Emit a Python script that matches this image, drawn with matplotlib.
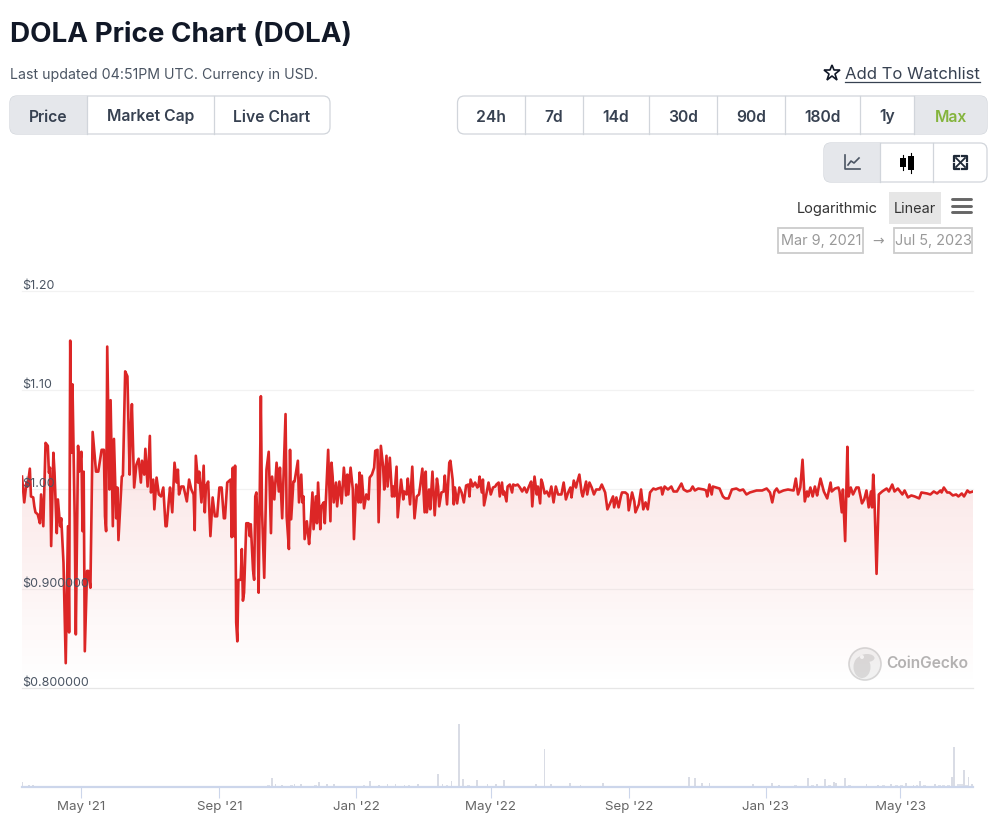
import datetime as dt
import numpy as np
import matplotlib
matplotlib.use("Agg")
import matplotlib.pyplot as plt
import matplotlib.dates as mdates
from matplotlib.patches import FancyBboxPatch, Rectangle, Circle, Ellipse

plt.rcParams['font.family'] = ['Inter', 'DejaVu Sans']

# data, days are counted from the first date
START = dt.datetime(2021, 3, 9)

price_days = [
    0, 2, 4, 5, 7, 8, 10, 11, 12, 14, 16, 17, 19, 21, 23, 24, 25, 26, 28, 29,
    31, 32, 34, 35, 36, 37, 39, 41, 42, 43, 44, 45, 47, 48, 50, 51, 53, 54, 55, 56,
    58, 59, 61, 63, 66, 68, 71, 73, 74, 75, 76, 78, 79, 81, 82, 84, 85, 86, 89, 90,
    92, 94, 96, 97, 98, 100, 102, 104, 106, 107, 109, 110, 112, 114, 115, 117, 118, 120, 122, 124,
    126, 128, 129, 131, 132, 134, 136, 138, 139, 140, 142, 144, 147, 149, 151, 153, 154, 155, 157, 158,
    160, 162, 163, 164, 166, 168, 170, 172, 174, 176, 178, 180, 181, 183, 184, 186, 187, 188, 189, 190,
    191, 192, 193, 195, 196, 197, 198, 200, 202, 203, 204, 206, 207, 208, 209, 210, 211, 213, 214, 216,
    218, 220, 222, 223, 225, 227, 229, 230, 232, 235, 236, 238, 239, 240, 242, 243, 246, 247, 249, 250,
    251, 252, 254, 256, 257, 259, 260, 262, 263, 264, 266, 267, 269, 270, 273, 275, 276, 277, 278, 280,
    281, 283, 285, 287, 289, 290, 291, 293, 295, 296, 298, 300, 301, 302, 303, 305, 307, 309, 310, 312,
    314, 315, 317, 318, 320, 322, 323, 325, 326, 328, 330, 331, 332, 334, 335, 337, 338, 340, 341, 343,
    344, 346, 348, 350, 352, 354, 355, 357, 359, 360, 361, 363, 364, 366, 368, 370, 371, 372, 374, 376,
    377, 379, 381, 382, 384, 385, 386, 388, 390, 392, 394, 396, 398, 399, 400, 402, 404, 406, 407, 408,
    410, 411, 412, 414, 416, 418, 420, 422, 423, 425, 426, 428, 429, 430, 432, 433, 435, 437, 438, 440,
    442, 444, 446, 448, 450, 452, 454, 455, 457, 459, 460, 462, 463, 464, 466, 468, 470, 472, 474, 476,
    478, 481, 483, 485, 487, 489, 490, 492, 494, 495, 497, 499, 500, 503, 504, 506, 508, 510, 512, 515,
    517, 520, 522, 524, 527, 528, 530, 532, 534, 535, 538, 540, 541, 544, 546, 547, 550, 552, 554, 556,
    558, 560, 563, 565, 567, 570, 571, 573, 576, 579, 581, 584, 587, 588, 590, 593, 596, 598, 600, 603,
    608, 610, 611, 613, 615, 616, 619, 622, 625, 627, 630, 633, 637, 640, 643, 646, 649, 652, 655, 660,
    664, 667, 669, 671, 673, 675, 679, 683, 688, 690, 692, 694, 696, 698, 700, 701, 703, 705, 707, 709,
    710, 712, 715, 718, 721, 722, 725, 728, 729, 731, 732, 734, 736, 737, 739, 741, 744, 746, 749, 751,
    753, 755, 757, 758, 759, 760, 762, 764, 767, 771, 773, 776, 778, 781, 783, 785, 787, 790, 793, 796,
    800, 802, 807, 810, 813, 816, 819, 820, 822, 825, 827, 830, 833, 835, 838, 840, 843, 845, 848,
]
price_values = [
    1.013, 0.987, 1.007, 1.003, 1.021, 0.993, 0.992, 0.983, 0.977, 0.975, 0.966, 0.995, 0.963, 1.047, 1.044, 1.017, 1.022, 0.943, 1.037, 1.017,
    0.956, 0.990, 0.963, 0.971, 0.948, 0.926, 0.825, 0.963, 0.856, 1.150, 1.037, 1.106, 0.971, 0.854, 1.044, 1.018, 1.038, 0.958, 1.018, 0.837,
    0.918, 0.918, 0.901, 1.058, 1.018, 1.018, 1.040, 1.040, 0.973, 0.958, 1.144, 1.000, 1.090, 0.963, 1.051, 0.971, 1.002, 0.949, 1.013, 1.014,
    1.119, 1.114, 1.015, 1.060, 1.086, 1.002, 1.025, 1.031, 1.007, 1.029, 1.015, 1.041, 1.003, 1.054, 0.997, 1.010, 0.980, 1.012, 0.995, 0.993,
    1.002, 0.963, 0.963, 0.990, 1.002, 0.977, 1.027, 1.007, 1.020, 0.995, 1.003, 1.003, 0.988, 1.010, 1.000, 0.995, 0.959, 1.034, 1.007, 1.018,
    0.987, 1.024, 0.977, 1.003, 1.008, 0.953, 0.992, 0.973, 0.973, 1.002, 1.002, 0.971, 0.971, 1.007, 1.008, 1.010, 0.952, 1.022, 0.953, 1.024,
    0.866, 0.847, 0.909, 0.909, 0.940, 0.888, 0.896, 0.966, 0.966, 0.953, 0.965, 0.919, 0.909, 0.993, 0.997, 0.970, 0.896, 1.094, 0.980, 0.911,
    1.020, 1.038, 0.956, 1.013, 0.990, 1.027, 0.998, 1.022, 0.971, 1.076, 0.973, 0.940, 1.040, 0.970, 1.008, 1.008, 1.029, 0.987, 1.015, 0.987,
    0.993, 0.950, 0.968, 0.945, 0.960, 0.997, 0.960, 0.993, 0.966, 1.007, 0.960, 0.983, 0.987, 0.966, 1.040, 0.968, 1.027, 1.013, 0.987, 1.007,
    0.983, 1.008, 0.986, 1.022, 0.994, 1.015, 0.995, 1.022, 1.000, 0.950, 1.005, 0.987, 1.017, 0.987, 1.014, 0.981, 0.995, 0.990, 1.012, 1.015,
    1.022, 1.039, 1.040, 0.967, 1.044, 1.023, 1.000, 1.034, 1.003, 1.032, 0.993, 1.003, 0.993, 1.023, 0.972, 0.997, 1.010, 0.990, 0.998, 0.995,
    1.011, 0.985, 1.023, 0.971, 0.993, 0.995, 1.003, 1.021, 0.977, 1.018, 0.977, 1.000, 0.980, 1.018, 0.974, 1.011, 1.003, 0.983, 0.997, 0.998,
    1.014, 0.985, 1.027, 1.029, 1.010, 0.985, 1.002, 0.986, 1.002, 0.997, 0.987, 1.004, 1.005, 0.993, 1.010, 1.003, 1.007, 1.002, 1.003, 1.013,
    0.997, 1.010, 0.984, 0.995, 1.007, 0.995, 1.002, 1.003, 1.005, 1.007, 0.993, 1.007, 0.995, 0.998, 0.988, 1.003, 1.005, 0.997, 1.005, 1.004,
    1.005, 1.002, 0.998, 1.002, 0.997, 1.003, 1.008, 0.983, 1.013, 0.995, 1.003, 0.986, 1.010, 1.007, 0.996, 0.998, 0.993, 1.003, 0.987, 1.003,
    0.995, 0.995, 1.007, 0.990, 0.997, 1.002, 0.992, 1.009, 1.002, 1.007, 1.015, 0.997, 0.993, 1.008, 0.995, 1.007, 1.002, 0.995, 1.000, 1.000,
    1.005, 0.997, 0.980, 0.985, 0.993, 0.982, 0.992, 0.982, 0.993, 0.997, 0.997, 0.995, 0.979, 0.997, 0.988, 0.977, 0.985, 1.000, 0.980, 0.987,
    0.980, 0.997, 1.001, 1.000, 1.001, 1.002, 0.995, 1.003, 1.000, 1.003, 0.998, 0.998, 1.004, 1.006, 1.000, 0.998, 0.999, 1.003, 0.999, 1.001,
    1.000, 0.999, 0.993, 1.005, 0.995, 1.003, 1.002, 1.001, 0.993, 0.991, 0.991, 1.000, 1.001, 0.999, 1.000, 0.995, 0.997, 0.998, 0.999, 0.999,
    1.001, 0.997, 0.987, 0.998, 1.001, 0.997, 0.999, 1.000, 0.999, 1.011, 0.995, 1.002, 1.030, 0.988, 0.998, 0.993, 1.002, 0.993, 1.003, 0.994,
    1.000, 1.011, 0.998, 0.991, 1.007, 0.998, 1.001, 1.002, 0.998, 0.977, 1.000, 0.948, 1.043, 0.993, 1.002, 0.995, 1.002, 1.002, 0.986, 0.990,
    0.999, 0.982, 0.998, 0.982, 1.015, 0.995, 0.915, 0.995, 0.998, 1.001, 0.998, 1.005, 0.998, 1.001, 0.998, 0.995, 0.999, 0.992, 0.994, 0.993,
    0.991, 0.997, 0.996, 0.995, 0.998, 0.996, 0.999, 0.997, 1.002, 0.997, 0.997, 0.994, 0.995, 0.993, 0.996, 0.993, 0.999, 0.997, 0.998,
]

# volume as percent of the largest bar
volume_days = [
    0, 6, 10, 223, 226, 232, 243, 249, 265, 272, 278, 310, 318, 326, 333, 341, 353, 371, 375, 383,
    390, 393, 406, 415, 423, 430, 458, 466, 472, 489, 498, 518, 595, 600, 606, 613, 652, 669, 675, 701,
    709, 716, 724, 726, 734, 753, 763, 775, 788, 795, 801, 814, 829, 831, 840, 844, 847,
]
volume_values = [
    8, 3, 3, 14, 5, 3, 5, 5, 8, 4, 4, 9, 3, 4, 5, 3, 5, 21, 5, 10,
    100, 13, 11, 4, 4, 11, 5, 60, 4, 7, 3, 6, 16, 14, 7, 6, 5, 7, 3, 14,
    5, 12, 8, 6, 14, 5, 3, 5, 6, 3, 9, 5, 16, 64, 27, 16, 5,
]
small_volume_days = [
    214, 220, 229, 236, 240, 246, 252, 258, 262, 268, 275, 282, 288, 294, 300, 305, 314, 322, 330, 337,
    345, 349, 358, 362, 367, 379, 387, 398, 402, 410, 419, 426, 435, 441, 447, 452, 462, 478, 483, 494,
    503, 510, 525, 535, 545, 560, 575, 590, 622, 640, 660, 680, 684, 690, 697, 705, 713, 720, 730, 738,
    745, 749, 758, 768, 771, 780, 784, 792, 798, 805, 810, 818, 822, 826, 835, 838, 842,
]
small_volume_values = [
    2, 3, 2, 2, 3, 2, 2, 1, 3, 2, 2, 1, 2, 2, 1, 3, 2, 2, 2, 2,
    3, 2, 2, 1, 2, 3, 2, 3, 2, 2, 1, 2, 2, 2, 1, 2, 1, 1, 2, 1,
    1, 1, 1, 1, 1, 1, 1, 2, 1, 1, 1, 2, 2, 3, 2, 3, 2, 3, 2, 3,
    2, 2, 2, 3, 2, 3, 3, 2, 3, 3, 2, 3, 3, 3, 4, 4, 3,
]

y_ticks = [0.8, 0.9, 1.0, 1.1, 1.2]
y_labels = ['$0.800000', '$0.900000', '$1.00', '$1.10', '$1.20']
x_ticks = [dt.datetime(2021, 5, 1), dt.datetime(2021, 9, 1), dt.datetime(2022, 1, 1), dt.datetime(2022, 5, 1),
           dt.datetime(2022, 9, 1), dt.datetime(2023, 1, 1), dt.datetime(2023, 5, 1)]
x_labels = ["May '21", "Sep '21", "Jan '22", "May '22", "Sep '22", "Jan '23", "May '23"]

W, H = 1005, 832
BORDER = '#d1d5db'
ACTIVE = '#e5e7eb'
DARK = '#374151'


def to_dates(days):
    return [START + dt.timedelta(days=int(d)) for d in days]


def chart_axes(top, bottom):
    return fig.add_axes([22 / W, 1 - bottom / H, 951 / W, (bottom - top) / H])


def button_group(x0, x1, y0, y1, dividers, labels, active):
    # outer box, filled active cell and the labels of one row of buttons
    box = FancyBboxPatch((x0, y0), x1 - x0, y1 - y0, boxstyle='round,pad=0,rounding_size=7',
                         fc='white', ec=BORDER, lw=0.9, zorder=2)
    ui.add_patch(box)
    edges = [x0] + dividers + [x1]
    cell = Rectangle((edges[active], y0), edges[active + 1] - edges[active], y1 - y0, fc=ACTIVE, ec='none', zorder=2.1)
    ui.add_patch(cell)
    cell.set_clip_path(box)
    for d in dividers:
        ui.plot([d, d], [y0, y1], color=BORDER, lw=0.9, zorder=2.2)
    for i, label in enumerate(labels):
        color = '#84b43c' if label == 'Max' else DARK
        ui.text((edges[i] + edges[i + 1]) / 2, (y0 + y1) / 2 + 2, label, ha='center', va='center',
                fontsize=11.3, fontweight=600, color=color, zorder=3)


fig = plt.figure(figsize=(W / 100, H / 100), dpi=100, facecolor='white')

# page furniture drawn in pixel coordinates
ui = fig.add_axes([0, 0, 1, 1])
ui.set_xlim(0, W)
ui.set_ylim(H, 0)
ui.axis('off')

ui.text(10, 35, 'DOLA Price Chart (DOLA)', fontsize=20, fontweight='bold', color='#111827', va='center')
ui.text(10, 75, 'Last updated 04:51PM UTC. Currency in USD.', fontsize=10.2, color='#4b5563', va='center')
ui.plot([831.5], [73], marker='*', ms=12, mfc='white', mec='#111827', mew=1.2)
ui.text(845, 74.5, 'Add To Watchlist', fontsize=12, color=DARK, va='center')
ui.plot([845, 980], [82, 82], color=DARK, lw=0.9)

button_group(10, 330, 96, 134, [87, 214], ['Price', 'Market Cap', 'Live Chart'], 0)
button_group(457.5, 987, 96, 134, [525, 583, 649, 717, 785, 860, 914],
             ['24h', '7d', '14d', '30d', '90d', '180d', '1y', 'Max'], 7)
button_group(824, 987, 143, 182, [880, 933], ['', '', ''], 0)

# line chart icon
ui.plot([845, 845, 860], [155, 169, 169], color='#4b5563', lw=1.2, zorder=4)
ui.plot([848, 851, 854, 859], [165, 161, 163, 158], color='#4b5563', lw=1.2, zorder=4)
# candlestick icon
ui.plot([903, 903], [155, 170], color='black', lw=0.8, zorder=4)
ui.plot([911, 911], [153, 173], color='black', lw=0.8, zorder=4)
ui.add_patch(Rectangle((900, 158), 6, 9, fc='black', ec='none', zorder=4))
ui.add_patch(Rectangle((908, 156), 6, 14, fc='black', ec='none', zorder=4))
# expand icon
ui.plot([956, 965], [158, 167], color='#1f2937', lw=1.3, zorder=4)
ui.plot([956, 965], [167, 158], color='#1f2937', lw=1.3, zorder=4)
for cx, cy, dx, dy in [(954, 156, 1, 1), (967, 156, -1, 1), (954, 169, 1, -1), (967, 169, -1, -1)]:
    ui.plot([cx + 5 * dx, cx, cx], [cy, cy, cy + 5 * dy], color='#1f2937', lw=1.6, zorder=4)

ui.text(837.5, 209, 'Logarithmic', fontsize=10.5, color='#333333', ha='center', va='center')
ui.add_patch(Rectangle((889, 192), 52, 32, fc='#e6e6e6', ec='none'))
ui.text(915, 209, 'Linear', fontsize=10.4, color='#333333', ha='center', va='center')
for y in [199, 205.5, 211.5]:
    ui.plot([952, 971], [y, y], color='#666666', lw=2.1, solid_capstyle='round')

ui.add_patch(Rectangle((778, 228), 85, 25, fc='white', ec='#cccccc', lw=1.3))
ui.add_patch(Rectangle((894, 228), 78, 25, fc='white', ec='#cccccc', lw=1.3))
ui.text(821, 241.5, 'Mar 9, 2021', fontsize=10.4, color='#999999', ha='center', va='center')
ui.text(933, 241.5, 'Jul 5, 2023', fontsize=10.4, color='#999999', ha='center', va='center')
ui.text(878.5, 241, '→', fontsize=10, color='#999999', ha='center', va='center', family='DejaVu Sans')

# price panel
ax = chart_axes(291, 688)
ax.patch.set_alpha(0)
price_dates = mdates.date2num(to_dates(price_days))
x_lim = (mdates.date2num(START), mdates.date2num(START + dt.timedelta(days=848)))

for v in y_ticks:
    ax.axhline(v, color='#e6e6e6' if v == 0.8 else '#f2f2f2', lw=0.9, zorder=1, clip_on=False)

# red fade below the line
area = ax.fill_between(price_dates, price_values, 0.8, facecolor='none', edgecolor='none')
ramp = np.zeros((200, 1, 4))
ramp[:, 0, 0] = 0.863
ramp[:, 0, 1] = 0.149
ramp[:, 0, 2] = 0.149
ramp[:, 0, 3] = np.linspace(0.0, 0.2, 200)
grad = ax.imshow(ramp, origin='lower', aspect='auto', extent=(x_lim[0], x_lim[1], 0.8, 1.2), zorder=1.5)
grad.set_clip_path(area.get_paths()[0], ax.transData)

ax.plot(price_dates, price_values, color='#dc2626', lw=1.9, zorder=3, solid_joinstyle='round')

for v, label in zip(y_ticks, y_labels):
    ax.annotate(label, xy=(0, v), xycoords=ax.get_yaxis_transform(), xytext=(0, 5), textcoords='offset pixels',
                fontsize=9, color='#4b5563', ha='left', va='center', zorder=4, annotation_clip=False)

ax.set_xlim(x_lim)
ax.set_ylim(0.8, 1.2)
ax.axis('off')

# watermark
ui.add_patch(Circle((865, 664), 16, fc='#f2f2f2', ec='#d6d6d6', lw=1.2, zorder=5))
ui.add_patch(Ellipse((862, 667), 17, 22, fc='#d9d9d9', ec='none', zorder=5.1))
ui.add_patch(Ellipse((867, 658), 15, 8, fc='#d9d9d9', ec='none', zorder=5.1))
ui.add_patch(Circle((862, 657), 2, fc='#f5f5f5', ec='none', zorder=5.2))
ui.text(886, 663.5, 'CoinGecko', fontsize=11.2, fontweight=600, color='#b4b4b4', va='center', zorder=5)

# volume panel
vol = chart_axes(724, 787)
vol.patch.set_alpha(0)
vol.bar(to_dates(small_volume_days), small_volume_values, width=2.5, color='#dfe2ea', lw=0)
vol.bar(to_dates(volume_days), volume_values, width=1.6, color='#d9dce5', lw=0)
vol.set_xlim(x_lim)
vol.set_ylim(0, 100)
for side in ['top', 'left', 'right']:
    vol.spines[side].set_visible(False)
vol.spines['bottom'].set_color('#ccd6eb')
vol.spines['bottom'].set_linewidth(1.6)
vol.set_yticks([])
vol.set_xticks(mdates.date2num(x_ticks))
vol.set_xticklabels(x_labels, fontsize=9.6, color='#666666')
vol.tick_params(axis='x', length=8, width=0.8, color='#ccd6eb', pad=2)

fig.savefig('out.png', dpi=100)
